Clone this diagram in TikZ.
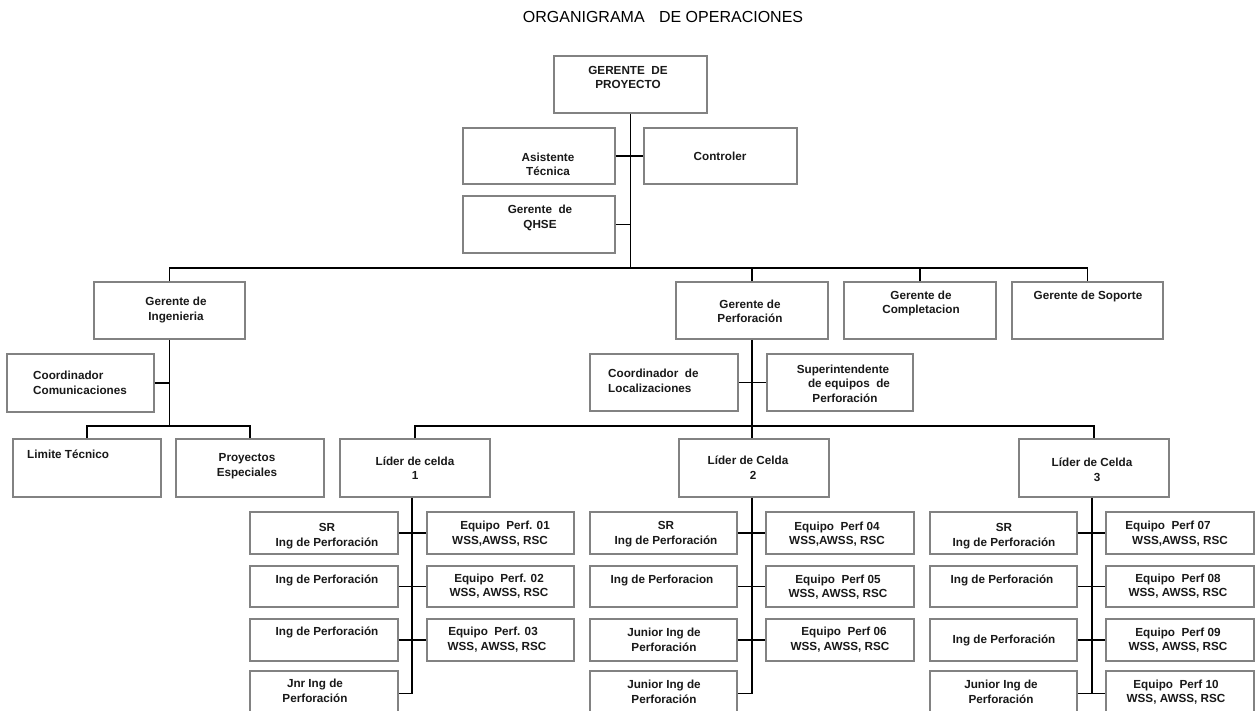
\documentclass[tikz,border=0pt]{standalone}
\usepackage{fontspec}
\setmainfont{Liberation Sans}
\definecolor{boxgray}{RGB}{130,130,130}
\tikzset{
  box/.style={draw=boxgray, line width=1.8pt, fill=white, inner sep=0pt, rectangle},
  txt/.style={font=\bfseries\fontsize{11.7}{14.5}\selectfont, align=center, inner sep=0pt, text=black!90},
  conn/.style={draw=black, line width=1.2pt},
}
\newcommand\bx[5]{\node[box,minimum width={(#4-#2)*1pt},minimum height={(#5-#3)*1pt}] (#1) at ({(#2+#4)/2},{(#3+#5)/2}) {};}
\begin{document}
\begin{tikzpicture}[x=1pt,y=-1pt]
\clip (0,0) rectangle (1256,711);
\fill[white] (0,0) rectangle (1256,711);
% title
\node[font=\fontsize{16}{19}\selectfont, inner sep=0pt] (title) at (663,17) {ORGANIGRAMA\hspace{0.9em}DE OPERACIONES};
% boxes
\bx{gp}{554}{56}{707}{113}
\bx{asis}{463}{128}{615}{184}
\bx{ctrl}{644}{128}{797}{184}
\bx{qhse}{463}{196}{615}{253}
\bx{ging}{94}{282}{245}{339}
\bx{gperf}{676}{282}{828}{339}
\bx{gcomp}{844}{282}{996}{339}
\bx{gsop}{1012}{282}{1163}{339}
\bx{ccom}{7}{354}{154}{412}
\bx{cloc}{590}{354}{738}{411}
\bx{sup}{767}{354}{913}{411}
\bx{lim}{13}{439}{161}{497}
\bx{proy}{176}{439}{324}{497}
\bx{la}{340}{439}{490}{497}
\bx{lb}{679}{439}{829}{497}
\bx{lc}{1019}{439}{1169}{497}
% cell 1
\bx{sa}{250}{512}{398}{554}
\bx{ea}{427}{512}{574}{554}
\bx{ia}{250}{566}{398}{607}
\bx{eb}{427}{566}{574}{607}
\bx{ib}{250}{619}{398}{661}
\bx{ec}{427}{619}{574}{661}
\bx{ja}{250}{671}{398}{716}
% cell 2
\bx{sb}{590}{512}{737}{554}
\bx{ed}{766}{512}{914}{554}
\bx{ic}{590}{566}{737}{607}
\bx{ee}{766}{566}{914}{607}
\bx{jb}{590}{619}{737}{661}
\bx{ef}{766}{619}{914}{661}
\bx{jc}{590}{671}{737}{716}
% cell 3
\bx{sc}{930}{512}{1077}{554}
\bx{eg}{1106}{512}{1254}{554}
\bx{id}{930}{566}{1077}{607}
\bx{eh}{1106}{566}{1254}{607}
\bx{ie}{930}{619}{1077}{661}
\bx{ei}{1106}{619}{1254}{661}
\bx{jd}{930}{671}{1077}{716}
\bx{ej}{1106}{671}{1254}{716}

% connectors
\coordinate (busL) at (169.5,268);
\coordinate (busT) at (630.5,268);
\coordinate (subI) at (169.5,426);
\coordinate (subP) at (752,426);
\draw[conn] (ging.north) -- (busL) -| (gsop.north);
\draw[conn] (gp.south) -- (busT);
\draw[conn] (asis.east) -- (ctrl.west);
\draw[conn] (qhse.east) -- (qhse.east -| gp.south);
\draw[conn] (gperf.north) -- (gperf.north |- busL);
\draw[conn] (gcomp.north) -- (gcomp.north |- busL);
\draw[conn] (ging.south) -- (subI);
\draw[conn] (ccom.east) -- (ccom.east -| ging.south);
\draw[conn] (lim.north) -- (lim.north |- subI) -| (proy.north);
\draw[conn] (gperf.south) -- (gperf.south |- lb.north);
\draw[conn] (cloc.east) -- (sup.west);
\draw[conn] (la.north) -- (la.north |- subP) -| (lc.north);
% cell connectors
\draw[conn] (la.south) ++(-3,0) coordinate (ta) -- (ta |- ja.east) -- (ja.east);
\draw[conn] (sa.east) -- (ea.west);
\draw[conn] (ia.east) -- (eb.west);
\draw[conn] (ib.east) -- (ec.west);
\draw[conn] (lb.south) ++(-2,0) coordinate (tb) -- (tb |- jc.east) -- (jc.east);
\draw[conn] (sb.east) -- (ed.west);
\draw[conn] (ic.east) -- (ee.west);
\draw[conn] (jb.east) -- (ef.west);
\draw[conn] (lc.south) ++(-2,0) coordinate (tc) -- (tc |- jd.east);
\draw[conn] (sc.east) -- (eg.west);
\draw[conn] (id.east) -- (eh.west);
\draw[conn] (ie.east) -- (ei.west);
\draw[conn] (jd.east) -- (ej.west);

% texts
\node[txt] (gp-t) at (628,77.5) {GERENTE\ \ DE\\PROYECTO};
\node[txt] (asis-t) at (548,164.5) {Asistente\\Técnica};
\node[txt] (ctrl-t) at (720,156) {Controler};
\node[txt] (qhse-t) at (540,218) {Gerente\ \ de\\QHSE};
\node[txt] (ging-t) at (176,310) {Gerente de\\Ingenieria};
\node[txt] (gperf-t) at (750,311.5) {Gerente de\\Perforación};
\node[txt] (gcomp-t) at (921,303.5) {Gerente de\\Completacion};
\node[txt] (gsop-t) at (1088,296) {Gerente de Soporte};
\node[txt,anchor=west,align=left] (ccom-t) at (33,383) {Coordinador\\Comunicaciones};
\node[txt,anchor=west,align=left] (cloc-t) at (608,381) {Coordinador\ \ de\\Localizaciones};
\node[txt] (sup-t) at (843,383.5) {Superintendente\\\hspace*{12pt}de equipos\ \ de\\\hspace*{4pt}Perforación};
\node[txt,anchor=west] (lim-t) at (27,454) {Limite Técnico};
\node[txt] (proy-t) at (247,466) {Proyectos\\Especiales};
\node[txt] (la-t) at (415,468) {Líder de celda\\1};
\node[txt] (lb-t) at (748,467.5) {Líder de Celda\\\hspace*{10pt}2};
\node[txt] (lc-t) at (1092,470) {Líder de Celda\\\hspace*{10pt}3};

\node[txt] (sa-t) at (327,536) {SR\\Ing de Perforación};
\node[txt] (ea-t) at (500,533.5) {\hspace*{10pt}Equipo\ \ Perf. 01\\WSS,AWSS, RSC};
\node[txt] (ia-t) at (327,580) {Ing de Perforación};
\node[txt] (eb-t) at (499,586) {Equipo\ \ Perf. 02\\WSS, AWSS, RSC};
\node[txt] (ib-t) at (327,632) {Ing de Perforación};
\node[txt] (ec-t) at (497,639.5) {Equipo\ \ Perf. 03\hspace*{8pt}\\WSS, AWSS, RSC};
\node[txt] (ja-t) at (315,691) {Jnr Ing de\\Perforación};

\node[txt] (sb-t) at (666,534) {SR\\Ing de Perforación};
\node[txt] (ed-t) at (837,534) {Equipo\ \ Perf 04\\WSS,AWSS, RSC};
\node[txt] (ic-t) at (662,580) {Ing de Perforacion};
\node[txt] (ee-t) at (838,587) {Equipo\ \ Perf 05\\WSS, AWSS, RSC};
\node[txt] (jb-t) at (664,640) {Junior Ing de\\Perforación};
\node[txt] (ef-t) at (840,639.5) {\hspace*{8pt}Equipo\ \ Perf 06\\WSS, AWSS, RSC};
\node[txt] (jc-t) at (664,692) {Junior Ing de\\Perforación};

\node[txt] (sc-t) at (1004,536) {SR\\Ing de Perforación};
\node[txt] (eg-t) at (1174,533.5) {Equipo\ \ Perf 07\hspace*{12pt}\\\hspace*{12pt}WSS,AWSS, RSC};
\node[txt] (id-t) at (1002,580) {Ing de Perforación};
\node[txt] (eh-t) at (1178,586) {Equipo\ \ Perf 08\\WSS, AWSS, RSC};
\node[txt] (ie-t) at (1004,640) {Ing de Perforación};
\node[txt] (ei-t) at (1178,640) {Equipo\ \ Perf 09\\WSS, AWSS, RSC};
\node[txt] (jd-t) at (1001,692) {Junior Ing de\\Perforación};
\node[txt] (ej-t) at (1176,692) {Equipo\ \ Perf 10\\WSS, AWSS, RSC};
\end{tikzpicture}
\end{document}
